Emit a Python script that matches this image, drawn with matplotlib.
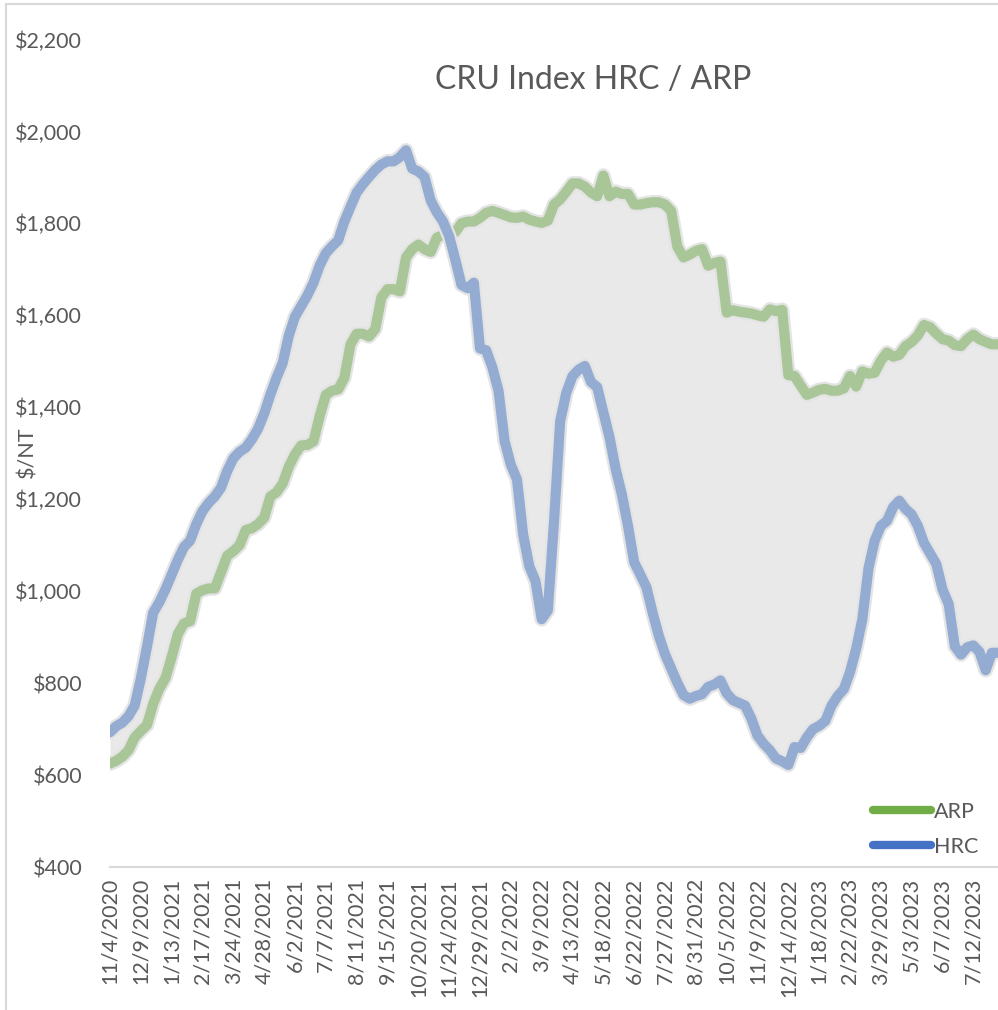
import numpy as np
import pandas as pd
import matplotlib
matplotlib.use('Agg')
import matplotlib.pyplot as plt
import matplotlib.patheffects as pe
from matplotlib.lines import Line2D
from matplotlib.patches import Rectangle

plt.rcParams['font.family'] = ['Lato', 'DejaVu Sans']

# Weekly CRU index, $/NT, starting 11/4/2020
start_date = '2020-11-04'
n_weeks = 145
dates = pd.date_range(start_date, periods=n_weeks, freq='7D')

hrc = [693, 706, 714, 728, 751, 810, 879, 953, 976, 1004,
       1036, 1068, 1096, 1110, 1146, 1174, 1192, 1206, 1225, 1261,
       1289, 1303, 1312, 1330, 1353, 1386, 1427, 1464, 1496, 1556,
       1597, 1620, 1643, 1671, 1708, 1735, 1750, 1763, 1804, 1836,
       1867, 1885, 1901, 1916, 1928, 1935, 1935, 1944, 1959, 1919,
       1913, 1901, 1850, 1824, 1804, 1772, 1721, 1666, 1659, 1671,
       1528, 1524, 1487, 1436, 1326, 1275, 1243, 1123, 1054, 1022,
       939, 958, 1151, 1370, 1432, 1468, 1482, 1490, 1455, 1444,
       1390, 1335, 1266, 1211, 1142, 1063, 1036, 1008, 953, 903,
       863, 832, 801, 774, 766, 772, 776, 792, 797, 806,
       778, 763, 757, 751, 723, 686, 668, 654, 636, 630,
       622, 661, 659, 682, 700, 707, 718, 751, 772, 787,
       824, 875, 939, 1050, 1110, 1142, 1153, 1183, 1197, 1179,
       1167, 1142, 1105, 1082, 1059, 1004, 972, 880, 862, 878,
       882, 868, 828, 866, 866]

arp = [625, 631, 640, 654, 682, 696, 709, 755, 788, 811,
       857, 907, 930, 935, 995, 1002, 1006, 1006, 1041, 1077,
       1087, 1100, 1133, 1137, 1146, 1160, 1206, 1215, 1234, 1271,
       1298, 1317, 1318, 1326, 1381, 1427, 1436, 1439, 1464, 1537,
       1560, 1560, 1554, 1570, 1639, 1657, 1657, 1652, 1726, 1744,
       1754, 1744, 1738, 1769, 1775, 1777, 1781, 1800, 1804, 1804,
       1812, 1823, 1827, 1823, 1818, 1813, 1812, 1815, 1808, 1804,
       1801, 1806, 1841, 1852, 1869, 1887, 1887, 1880, 1867, 1859,
       1904, 1859, 1869, 1864, 1864, 1841, 1841, 1844, 1846, 1846,
       1841, 1827, 1749, 1726, 1732, 1740, 1744, 1708, 1714, 1717,
       1606, 1611, 1608, 1606, 1604, 1600, 1597, 1613, 1609, 1612,
       1470, 1468, 1447, 1427, 1432, 1438, 1440, 1436, 1436, 1441,
       1468, 1445, 1478, 1473, 1475, 1501, 1519, 1510, 1514, 1533,
       1542, 1556, 1579, 1574, 1560, 1548, 1545, 1535, 1533, 1548,
       1558, 1548, 1542, 1537, 1537]

y_ticks = [400, 600, 800, 1000, 1200, 1400, 1600, 1800, 2000, 2200]
label_every = 5

text_color = '#595959'
x = np.arange(len(dates))

fig = plt.figure(figsize=(9.98, 10.10), dpi=100)
ax = fig.add_axes([110 / 998, 143 / 1010, 888 / 998, 827.5 / 1010])

# shaded spread between the two series
ax.fill_between(x, arp, hrc, color='#e9e9e9', lw=0, zorder=1)

halo = [pe.Stroke(linewidth=10.5, foreground='#e4e4e4'), pe.Normal()]
ax.plot(x, arp, color='#a9c698', lw=7.3, solid_joinstyle='round',
        solid_capstyle='round', path_effects=halo, zorder=2)
ax.plot(x, hrc, color='#95acd2', lw=7.3, solid_joinstyle='round',
        solid_capstyle='round', path_effects=halo, zorder=3)

ax.set_xlim(0, n_weeks - 1)
ax.set_ylim(400, 2200)
ax.set_yticks(y_ticks)
ax.set_yticklabels([f'${v:,}' for v in y_ticks])
ax.set_xticks(x[::label_every])
ax.set_xticklabels([f'{d.month}/{d.day}/{d.year}' for d in dates[::label_every]],
                   rotation=90)
ax.tick_params(axis='both', length=0, labelsize=15.5, colors=text_color)
ax.tick_params(axis='y', pad=20)
ax.tick_params(axis='x', pad=8)

for s in ['top', 'right', 'left']:
    ax.spines[s].set_visible(False)
ax.spines['bottom'].set_color('#d9d9d9')
ax.spines['bottom'].set_linewidth(1.5)

fig.text(593 / 998, 1 - 80 / 1010, 'CRU Index HRC / ARP', ha='center', va='center',
         fontsize=23, color=text_color)
fig.text(27 / 998, 1 - 452 / 1010, '$/NT', rotation=90, ha='center', va='center',
         fontsize=15.5, color=text_color)

handles = [Line2D([0], [0], color='#70AD47', lw=6, solid_capstyle='round'),
           Line2D([0], [0], color='#4472C4', lw=6, solid_capstyle='round')]
ax.legend(handles, ['ARP', 'HRC'], loc='lower right', frameon=False,
          handlelength=2.7, handletextpad=0.1, fontsize=15.5, labelcolor=text_color,
          labelspacing=0.7, borderpad=0, borderaxespad=0,
          bbox_to_anchor=(978 / 998, 1 - 857 / 1010), bbox_transform=fig.transFigure)

# chart frame (cropped on right and bottom)
fig.patches.append(Rectangle((6 / 998, -0.1), 1.2, 0.996 + 0.1, transform=fig.transFigure,
                             fill=False, edgecolor='#d9d9d9', lw=1.5))

fig.savefig('out.png', dpi=100, facecolor='white')
